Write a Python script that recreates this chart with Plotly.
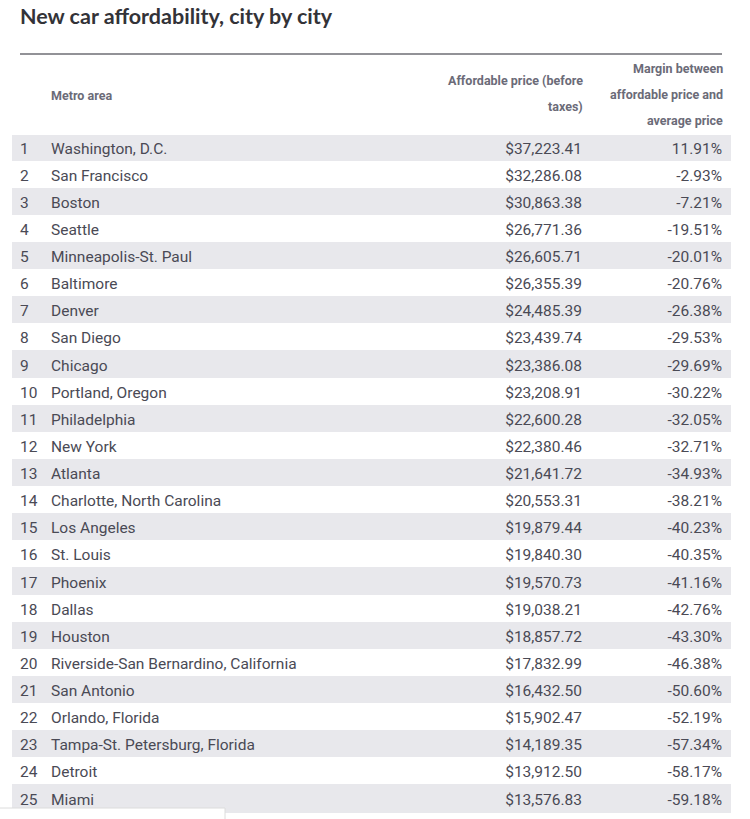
import plotly.graph_objects as go

ranks = list(range(1, 26))
metros = ["Washington, D.C.", "San Francisco", "Boston", "Seattle", "Minneapolis-St. Paul",
          "Baltimore", "Denver", "San Diego", "Chicago", "Portland, Oregon", "Philadelphia",
          "New York", "Atlanta", "Charlotte, North Carolina", "Los Angeles", "St. Louis",
          "Phoenix", "Dallas", "Houston", "Riverside-San Bernardino, California", "San Antonio",
          "Orlando, Florida", "Tampa-St. Petersburg, Florida", "Detroit", "Miami"]
prices = [37223.41, 32286.08, 30863.38, 26771.36, 26605.71, 26355.39, 24485.39, 23439.74,
          23386.08, 23208.91, 22600.28, 22380.46, 21641.72, 20553.31, 19879.44, 19840.30,
          19570.73, 19038.21, 18857.72, 17832.99, 16432.50, 15902.47, 14189.35, 13912.50,
          13576.83]
margins = [11.91, -2.93, -7.21, -19.51, -20.01, -20.76, -26.38, -29.53, -29.69, -30.22,
           -32.05, -32.71, -34.93, -38.21, -40.23, -40.35, -41.16, -42.76, -43.30, -46.38,
           -50.60, -52.19, -57.34, -58.17, -59.18]
header_metro = ["Metro area"]
header_price = ["Affordable price (before", "taxes)"]
header_margin = ["Margin between", "affordable price and", "average price"]

W, H = 750, 819
GRAY = "#e8e8ec"
row_fill = [GRAY if r % 2 == 1 else "white" for r in ranks]

price_txt = [f"${p:,.2f}" for p in prices]
margin_txt = [f"{m:.2f}%" for m in margins]

TABLE_TOP = 54
HEADER_H = 80
ROW_H = 27.12

fig = go.Figure(go.Table(
    domain=dict(x=[12 / W, 730 / W], y=[0, 1 - TABLE_TOP / H]),
    columnwidth=[31, 357, 190, 140],
    header=dict(
        values=["", "", "", ""],
        fill_color="white",
        line=dict(color="white", width=1),
        height=HEADER_H,
    ),
    cells=dict(
        values=[ranks, metros, price_txt, margin_txt],
        align=["left", "left", "right", "right"],
        fill_color=[row_fill] * 4,
        line=dict(color=[row_fill] * 4, width=1),
        font=dict(family="Roboto", size=15.5, color="#4a4a55"),
        height=ROW_H,
    ),
))

hfont = dict(family="Roboto", size=12.5, color="#6b6b78", weight="bold")
LINE = 26
annotations = []
def add_header(lines, x, anchor, first_y):
    for i, t in enumerate(lines):
        annotations.append(dict(text=t, x=x / W, y=1 - (first_y + i * LINE) / H,
                                xref="paper", yref="paper", xanchor=anchor, yanchor="middle",
                                showarrow=False, font=hfont))

add_header(header_metro, 49, "left", 95)
add_header(header_price, 585, "right", 81)
add_header(header_margin, 725, "right", 68)

fig.update_layout(
    width=W, height=H,
    margin=dict(l=0, r=0, t=0, b=0),
    paper_bgcolor="white",
    title=dict(text="<b>New car affordability, city by city</b>",
               x=20 / W, xanchor="left", y=1 - 16 / H, yanchor="middle",
               font=dict(family="Lato", size=21.5, color="#333338")),
    annotations=annotations,
    shapes=[
        dict(type="line", xref="paper", yref="paper", x0=20 / W, x1=722 / W,
             y0=1 - TABLE_TOP / H, y1=1 - TABLE_TOP / H, line=dict(color="#6e6e74", width=1.5)),
        dict(type="rect", xref="paper", yref="paper", x0=-0.01, x1=225 / W,
             y0=-0.01, y1=1 - 808 / H, fillcolor="white", line=dict(color="#dcdcdc", width=1)),
    ],
)

fig.write_html("out.html", config={"displayModeBar": False},
               post_script="document.body.style.margin='0px';document.body.style.overflow='hidden';")
